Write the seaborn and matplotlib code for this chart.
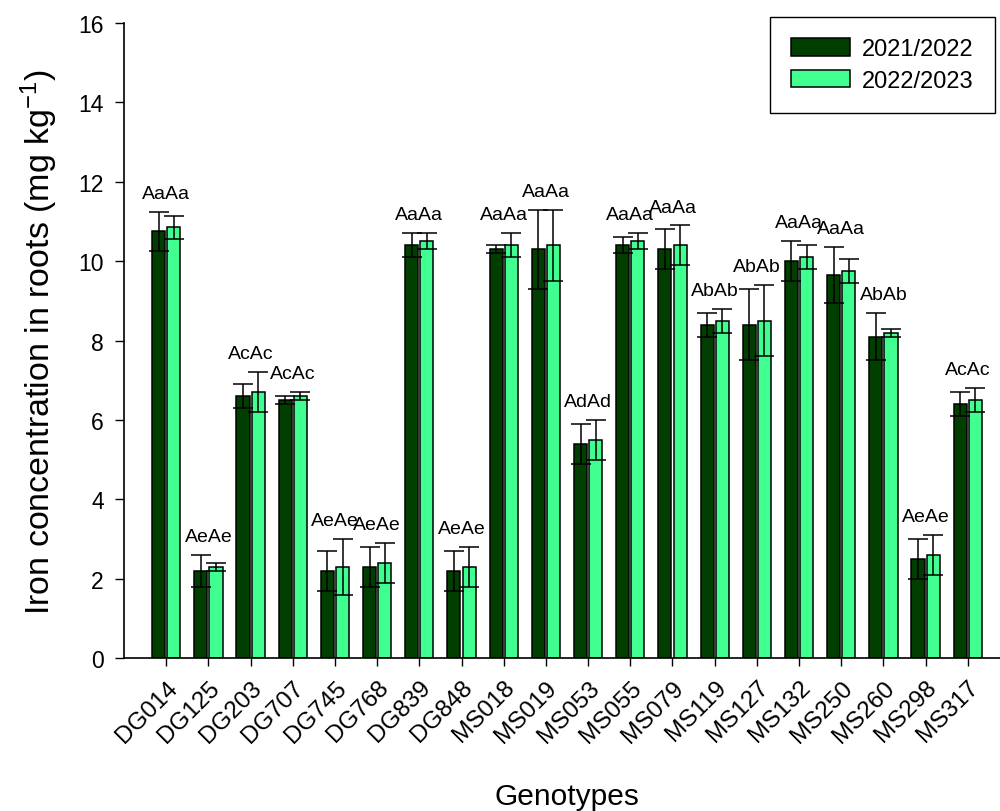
import matplotlib
matplotlib.use("Agg")
import matplotlib.pyplot as plt
import numpy as np
import pandas as pd
import seaborn as sns

# Iron concentration in roots of 20 genotypes over two seasons (mean ± SD)
genotypes = ["DG014", "DG125", "DG203", "DG707", "DG745", "DG768", "DG839",
             "DG848", "MS018", "MS019", "MS053", "MS055", "MS079", "MS119",
             "MS127", "MS132", "MS250", "MS260", "MS298", "MS317"]
seasons = ["2021/2022", "2022/2023"]

fe_2122 = [10.75, 2.2, 6.6, 6.5, 2.2, 2.3, 10.4, 2.2, 10.3, 10.3,
           5.4, 10.4, 10.3, 8.4, 8.4, 10.0, 9.65, 8.1, 2.5, 6.4]
sd_2122 = [0.5, 0.4, 0.3, 0.1, 0.5, 0.5, 0.3, 0.5, 0.1, 1.0,
           0.5, 0.2, 0.5, 0.3, 0.9, 0.5, 0.7, 0.6, 0.5, 0.3]
fe_2223 = [10.85, 2.3, 6.7, 6.6, 2.3, 2.4, 10.5, 2.3, 10.4, 10.4,
           5.5, 10.5, 10.4, 8.5, 8.5, 10.1, 9.75, 8.2, 2.6, 6.5]
sd_2223 = [0.3, 0.1, 0.5, 0.1, 0.7, 0.5, 0.2, 0.5, 0.3, 0.9,
           0.5, 0.2, 0.5, 0.3, 0.9, 0.3, 0.3, 0.1, 0.5, 0.3]
letters = ["AaAa", "AeAe", "AcAc", "AcAc", "AeAe", "AeAe", "AaAa", "AeAe",
           "AaAa", "AaAa", "AdAd", "AaAa", "AaAa", "AbAb", "AbAb", "AaAa",
           "AaAa", "AbAb", "AeAe", "AcAc"]

df = pd.DataFrame({
    "Genotype": genotypes * 2,
    "Season": [seasons[0]] * len(genotypes) + [seasons[1]] * len(genotypes),
    "Fe": fe_2122 + fe_2223,
})
sds = [sd_2122, sd_2223]

sns.set_theme(style="ticks")
plt.rcParams["font.family"] = ["Liberation Sans", "DejaVu Sans"]
plt.rcParams["mathtext.fontset"] = "custom"
plt.rcParams["mathtext.rm"] = "Liberation Sans"
plt.rcParams["mathtext.it"] = "Liberation Sans:italic"
plt.rcParams["mathtext.bf"] = "Liberation Sans:bold"
for key in ["text.color", "axes.labelcolor", "xtick.color", "ytick.color",
            "axes.edgecolor"]:
    plt.rcParams[key] = "black"

palette = {seasons[0]: "#003f00", seasons[1]: "#40ff90"}

fig = plt.figure(figsize=(10, 8.12), dpi=100)
ax = fig.add_axes([0.124, 0.1884, 0.886, 0.782])

sns.barplot(data=df, x="Genotype", y="Fe", hue="Season", order=genotypes,
            hue_order=seasons, palette=palette, saturation=1, width=0.72,
            gap=0.14, edgecolor="black", linewidth=1.1, errorbar=None, ax=ax)

# error bars and significance letters on top of the drawn bars
bar_sets = list(ax.containers)
tops = np.zeros(len(genotypes))
centers = np.zeros((2, len(genotypes)))
for k, cont in enumerate(bar_sets):
    xs = np.array([p.get_x() + p.get_width() / 2 for p in cont.patches])
    hs = np.array([p.get_height() for p in cont.patches])
    err = np.array(sds[k])
    ax.errorbar(xs, hs, yerr=err, fmt="none", ecolor="black",
                elinewidth=1.1, capsize=7, capthick=1.1, zorder=5)
    tops = np.maximum(tops, hs + err)
    centers[k] = xs

for i, lab in enumerate(letters):
    ax.annotate(lab, (centers[:, i].mean(), tops[i]), xytext=(0, 10),
                textcoords="offset points", ha="center", va="baseline",
                fontsize=14)

ax.set_xlim(-1, 20)
ax.set_ylim(0, 16)
ax.set_yticks(np.arange(0, 17, 2))
ax.tick_params(axis="y", length=6.5, width=1, labelsize=16.5, pad=8)
ax.tick_params(axis="x", length=6, width=1, labelsize=17.5, pad=7)
for lbl in ax.get_xticklabels():
    lbl.set_rotation(45)
    lbl.set_ha("right")
    lbl.set_va("top")
    lbl.set_rotation_mode("anchor")

for side in ["top", "right"]:
    ax.spines[side].set_visible(False)
for side in ["left", "bottom"]:
    ax.spines[side].set_linewidth(1.2)

ax.set_ylabel("Iron concentration in roots (mg kg$^{-1}$)", fontsize=24.5)
ax.yaxis.set_label_coords(-0.072, 0.5)
ax.set_xlabel("Genotypes", fontsize=21.5)
ax.xaxis.set_label_coords(0.5, -0.195)

handles, labels = ax.get_legend_handles_labels()
leg = ax.legend(handles, labels, loc="upper right",
                bbox_to_anchor=(0.995, 0.978), bbox_transform=fig.transFigure,
                fontsize=17, frameon=True, fancybox=False, framealpha=1,
                edgecolor="black", handlelength=2.5, handleheight=0.75,
                handletextpad=0.5, labelspacing=0.4, borderpad=0.9,
                borderaxespad=0)
leg.get_frame().set_linewidth(1.0)

fig.savefig("out.png", dpi=100)
